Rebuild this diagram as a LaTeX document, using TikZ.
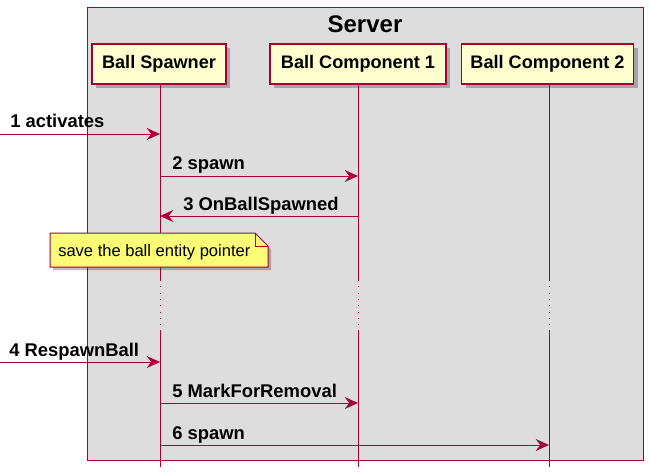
\documentclass[tikz,border=0pt]{standalone}
\usepackage{fontspec}
\setmainfont{Liberation Sans}
\usetikzlibrary{arrows.meta,shadows}
\definecolor{pred}{HTML}{A80036}
\definecolor{pfill}{HTML}{FEFECE}
\definecolor{sgray}{HTML}{DDDDDD}
\definecolor{nfill}{HTML}{FBFB77}
\tikzset{
  part/.style={draw=pred, fill=pfill, line width=1.1pt, minimum height=30pt, inner sep=0pt,
    font=\fontsize{13.6}{15}\selectfont\bfseries,
    drop shadow={shadow xshift=3pt, shadow yshift=-3pt, fill=black, opacity=0.25}},
  life/.style={draw=pred, line width=0.75pt},
  delay/.style={draw=pred, line width=0.75pt, dash pattern=on 0.75pt off 4pt},
  msg/.style={draw=pred, line width=0.75pt, -{Stealth[length=10pt,width=9pt,inset=3.5pt]}},
  lbl/.style={anchor=base west, inner sep=0pt, font=\fontsize{13.8}{15}\selectfont\bfseries},
  notebox/.style={font=\fontsize{12.4}{14}\selectfont, inner sep=0pt}
}
\begin{document}
\begin{tikzpicture}[x=0.75pt,y=-0.75pt]
\useasboundingbox (0,0) rectangle (650,475);
\fill[white] (0,0) rectangle (650,475);
% server group
\draw[pred, fill=sgray, line width=0.75pt] (87,7) rectangle (643,460);
\node[anchor=base, inner sep=0pt, font=\fontsize{18}{20}\selectfont\bfseries] (title) at (365,32) {Server};
% participants
\node[part, minimum width=100.5pt] (bs) at (159,64) {Ball Spawner};
\node[part, minimum width=132pt] (bc1) at (358,64) {Ball Component 1};
\node[part, minimum width=129pt] (bc2) at (547.5,64) {Ball Component 2};
% lifeline coordinates
\coordinate (bsA) at (160,280); \coordinate (bsB) at (160,330); \coordinate (bsE) at (160,467);
\coordinate (c1A) at (358,280); \coordinate (c1B) at (358,330); \coordinate (c1E) at (358,467);
\coordinate (c2A) at (549,280); \coordinate (c2B) at (549,330); \coordinate (c2E) at (549,467);
\draw[life] (bs.south -| bsA) -- (bsA);
\draw[delay] (bsA) -- (bsB);
\draw[life] (bsB) -- (bsE);
\draw[life] (bc1.south -| c1A) -- (c1A);
\draw[delay] (c1A) -- (c1B);
\draw[life] (c1B) -- (c1E);
\draw[life] (bc2.south -| c2A) -- (c2A);
\draw[delay] (c2A) -- (c2B);
\draw[life] (c2B) -- (c2E);
% message coordinates
\coordinate (m1s) at (0,134);   \coordinate (m1e) at (160,134);
\coordinate (m2s) at (160,176); \coordinate (m2e) at (358,176);
\coordinate (m3s) at (358,216); \coordinate (m3e) at (160,216);
\coordinate (m4s) at (0,362);   \coordinate (m4e) at (160,362);
\coordinate (m5s) at (160,403); \coordinate (m5e) at (358,403);
\coordinate (m6s) at (160,445); \coordinate (m6e) at (549,445);
\draw[msg] (m1s) -- (m1e);
\draw[msg] (m2s) -- (m2e);
\draw[msg] (m3s) -- (m3e);
\draw[msg] (m4s) -- (m4e);
\draw[msg] (m5s) -- (m5e);
\draw[msg] (m6s) -- (m6e);
\node[lbl] (l1) at (10,127) {1 activates};
\node[lbl] (l2) at (172,169) {2 spawn};
\node[lbl] (l3) at (183,210.5) {3 OnBallSpawned};
\node[lbl] (l4) at (9,356) {4 RespawnBall};
\node[lbl] (l5) at (172,397) {5 MarkForRemoval};
\node[lbl] (l6) at (172,439) {6 spawn};
% note
\fill[black, opacity=0.25] (53,236) -- (258,236) -- (271,249) -- (271,270) -- (53,270) -- cycle;
\draw[pred, fill=nfill, line width=0.75pt] (50,233) -- (255,233) -- (268,246) -- (268,267) -- (50,267) -- cycle;
\draw[pred, line width=0.75pt] (255,233) -- (255,246) -- (268,246);
\node[notebox, anchor=base west] (note) at (58,256) {save the ball entity pointer};
\end{tikzpicture}
\end{document}
